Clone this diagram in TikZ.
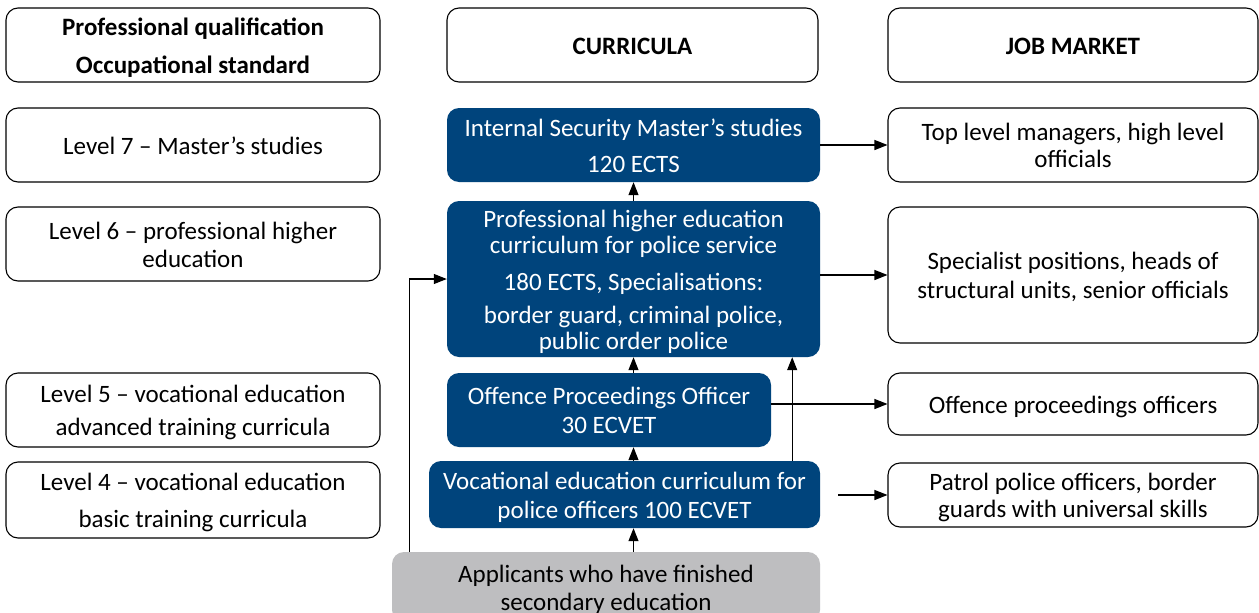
\documentclass[tikz,border=0pt]{standalone}
\usepackage{fontspec}
\setmainfont{Carlito}
\usetikzlibrary{arrows.meta}
\definecolor{navy}{RGB}{0,68,124}
\definecolor{appgray}{RGB}{190,190,192}
\newcommand{\boxtext}[1]{\raisebox{-4pt}[\height][\depth]{\begin{tabular}{@{}c@{}}#1\end{tabular}}}
\begin{document}
\begin{tikzpicture}[x=1pt,y=-1pt,
  base/.style={inner sep=0pt, rounded corners=12pt, font=\fontsize{25}{26}\selectfont},
  box/.style={base, draw=black, line width=1.1pt, fill=white},
  bluebox/.style={base, fill=navy, text=white},
  greybox/.style={base, fill=appgray, text=black},
  arr/.style={-{Triangle[length=13pt,width=10pt]}, line width=1.2pt},
]
\path[use as bounding box, clip] (0,0) rectangle (1259,613);
\fill[white] (0,0) rectangle (1259,613);

% left column
\node[box, minimum width=374, minimum height=74] (lh) at (193,45) {\boxtext{\textbf{Professional qualification}\\[12pt]\textbf{Occupational standard}}};
\node[box, minimum width=374, minimum height=74] (l7) at (193,145) {\boxtext{Level 7 – Master’s studies}};
\node[box, minimum width=374, minimum height=74] (l6) at (193,244) {\boxtext{Level 6 – professional higher\\[2pt]education}};
\node[box, minimum width=374, minimum height=74] (l5) at (193,410) {\boxtext{Level 5 – vocational education\\[7pt]advanced training curricula}};
\node[box, minimum width=374, minimum height=76] (l4) at (193,500) {\boxtext{Level 4 – vocational education\\[11pt]basic training curricula}};

% middle column
\node[box, minimum width=371, minimum height=74] (mh) at (632.5,45) {\boxtext{\textbf{CURRICULA}}};
\node[bluebox, minimum width=373, minimum height=74] (master) at (633.5,145) {\boxtext{Internal Security Master’s studies\\[10pt]120 ECTS}};
\node[bluebox, minimum width=373, minimum height=156] (prof) at (633.5,279) {\boxtext{Professional higher education\\curriculum for police service\\[11pt]180 ECTS, Specialisations:\\[7pt]border guard, criminal police,\\public order police}};
\node[bluebox, minimum width=324, minimum height=74] (off) at (609,410) {\boxtext{Offence Proceedings Officer\\[3pt]30 ECVET}};
\node[bluebox, minimum width=391, minimum height=67] (voc) at (624.5,494.5) {\boxtext{Vocational education curriculum for\\[3pt]police officers 100 ECVET}};
\node[greybox, minimum width=428, minimum height=70] (app) at (606,587) {\boxtext{Applicants who have finished\\[2pt]secondary education}};

% right column
\node[box, minimum width=370, minimum height=74] (jh) at (1073,45) {\boxtext{\textbf{JOB MARKET}}};
\node[box, minimum width=370, minimum height=74] (top) at (1073,145) {\boxtext{Top level managers, high level\\[1pt]officials}};
\node[box, minimum width=370, minimum height=136] (spec) at (1073,275) {\boxtext{Specialist positions, heads of\\[3pt]structural units, senior officials}};
\node[box, minimum width=370, minimum height=62] (joff) at (1073,404) {\boxtext{Offence proceedings officers}};
\node[box, minimum width=370, minimum height=64] (pat) at (1073,495) {\boxtext{Patrol police officers, border\\[1pt]guards with universal skills}};

% horizontal arrows
\draw[arr] (master.east) -- (top.west);
\draw[arr] (spec.west -| prof.east) -- (spec.west);
\draw[arr] (joff.west -| off.east) -- (joff.west);
\draw[arr] ([xshift=18pt]voc.east |- pat.west) -- (pat.west);

% vertical arrows
\draw[arr] (prof.north) -- (master.south);
\draw[arr] (prof.south |- off.north) -- (prof.south);
\draw[arr] (prof.south |- voc.north) -- (prof.south |- off.south);
\draw[arr] (prof.south |- app.north) -- (prof.south |- voc.south);
\draw[arr] ([xshift=-28pt]voc.north east) -- ([xshift=-28pt]voc.north east |- prof.south);
\draw[arr] ([xshift=18pt]app.north west) |- (prof.west);
\end{tikzpicture}
\end{document}
